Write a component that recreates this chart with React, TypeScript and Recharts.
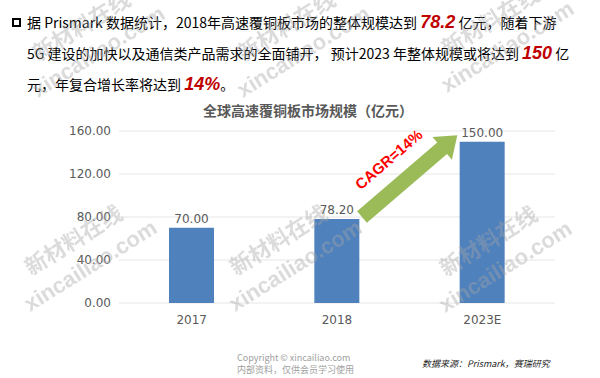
import React from 'react';
import { BarChart, Bar, XAxis, YAxis, CartesianGrid, LabelList, ReferenceLine } from 'recharts';

// Market size of high-speed CCL, 100 million yuan
const categories = ['2017', '2018', '2023E'];
const marketSize = [70, 78.2, 150];
const yTicks = [0, 40, 80, 120, 160];

// Growth annotation between 2018 and 2023E
const cagrLabel = 'CAGR=14%';
const cagrStart = { category: '2018', value: 80 };
const cagrEnd = { category: '2023E', value: 156 };

const data = categories.map((year, i) => ({ year, value: marketSize[i] }));

const CJK = "'Noto Sans CJK SC', 'Noto Sans', sans-serif";
const AXIS_FONT = "'DejaVu Sans', Verdana, sans-serif";
const AXIS_COLOR = '#595959';

// Thick green arrow with the CAGR text riding above it
const GrowthArrow = (props: any) => {
  const { x1, y1, x2, y2 } = props;
  const inset = 25;
  const tx = x1 + inset;
  const ty = y1;
  const px = x2 - inset;
  const py = y2;
  const len = Math.hypot(px - tx, py - ty);
  const ux = (px - tx) / len;
  const uy = (py - ty) / len;
  const nx = -uy;
  const ny = ux;
  const shaft = 7.5;
  const head = 15;
  const headLen = 20;
  const hx = px - ux * headLen;
  const hy = py - uy * headLen;
  const pts = [
    [tx + nx * shaft, ty + ny * shaft],
    [hx + nx * shaft, hy + ny * shaft],
    [hx + nx * head, hy + ny * head],
    [px, py],
    [hx - nx * head, hy - ny * head],
    [hx - nx * shaft, hy - ny * shaft],
    [tx - nx * shaft, ty - ny * shaft],
  ]
    .map((p) => p.join(','))
    .join(' ');
  const mx = (tx + px) / 2 - nx * 25 - ux * 5;
  const my = (ty + py) / 2 - ny * 25 - uy * 5;
  const angle = (Math.atan2(uy, ux) * 180) / Math.PI;
  return (
    <g>
      <polygon points={pts} fill="#9BBB59" />
      <text
        x={mx}
        y={my}
        textAnchor="middle"
        dominantBaseline="middle"
        transform={`rotate(${angle} ${mx} ${my})`}
        fontFamily="'Liberation Sans', Arial, sans-serif"
        fontWeight="bold"
        fontSize={15}
        fill="#FF0000"
      >
        {cagrLabel}
      </text>
    </g>
  );
};

const emph = {
  fontFamily: "'Liberation Sans', Arial, sans-serif",
  fontWeight: 'bold' as const,
  fontStyle: 'italic' as const,
  fontSize: 18,
  fill: '#C00000',
};

const watermarkAnchors = [
  [38, 98],
  [243, 98],
  [447, 93],
  [30, 312],
  [235, 312],
  [445, 313],
];

export default function App() {
  return (
    <div style={{ position: 'absolute', left: 0, top: 0, width: 600, height: 378, background: '#fff' }}>
      <BarChart
        width={600}
        height={378}
        data={data}
        margin={{ top: 131, right: 45, bottom: 45, left: 59 }}
      >
        <CartesianGrid vertical={false} stroke="#e6e6e6" />
        <XAxis
          dataKey="year"
          axisLine={false}
          tickLine={false}
          tickMargin={6}
          height={30}
          tick={{ fill: AXIS_COLOR, fontSize: 12, fontFamily: AXIS_FONT }}
        />
        <YAxis
          domain={[0, 160]}
          ticks={yTicks}
          axisLine={false}
          tickLine={false}
          width={60}
          tickFormatter={(v: number) => v.toFixed(2)}
          tick={{ fill: AXIS_COLOR, fontSize: 12, fontFamily: AXIS_FONT }}
        />
        <Bar dataKey="value" fill="#4F81BD" barSize={45} isAnimationActive={false}>
          <LabelList
            dataKey="value"
            position="top"
            formatter={(v: any) => Number(v).toFixed(2)}
            fill={AXIS_COLOR}
            fontSize={12}
            fontFamily={AXIS_FONT}
          />
        </Bar>
        <ReferenceLine
          segment={[
            { x: cagrStart.category, y: cagrStart.value },
            { x: cagrEnd.category, y: cagrEnd.value },
          ]}
          ifOverflow="visible"
          shape={GrowthArrow}
        />
      </BarChart>

      <svg
        width={600}
        height={378}
        style={{ position: 'absolute', left: 0, top: 0, pointerEvents: 'none' }}
      >
        {/* bullet + summary text */}
        <rect x={13} y={19} width={7} height={7} fill="none" stroke="#000" strokeWidth={2} />
        <g fontFamily={CJK} fontSize={14} fill="#000">
          <text x={27} y={28}>
            {'据 Prismark 数据统计，2018年高速覆铜板市场的整体规模达到 '}
            <tspan {...emph}>78.2</tspan>
            {' 亿元，随着下游'}
          </text>
          <text x={27} y={59}>
            {'5G 建设的加快以及通信类产品需求的全面铺开， 预计2023 年整体规模或将达到 '}
            <tspan {...emph}>150</tspan>
            {' 亿'}
          </text>
          <text x={27} y={90}>
            {'元，年复合增长率将达到 '}
            <tspan {...emph}>14%</tspan>
            {'。'}
          </text>
        </g>

        {/* chart title */}
        <text
          x={308}
          y={116}
          textAnchor="middle"
          fontFamily={CJK}
          fontWeight="bold"
          fontSize={14}
          fill="#595959"
        >
          全球高速覆铜板市场规模（亿元）
        </text>

        {/* footer */}
        <g fontFamily={CJK} fontSize={9} fill="#a0a0a0">
          <text x={237} y={361}>Copyright © xincailiao.com</text>
          <text x={237} y={373}>内部资料，仅供会员学习使用</text>
        </g>
        <text x={422} y={367} fontFamily={CJK} fontSize={9} fontStyle="italic" fill="#262626">
          数据来源：Prismark，赛瑞研究
        </text>

        {/* site watermark */}
        <g fill="#a6a6a6" opacity={0.4} fontWeight="bold" fontSize={22}>
          {watermarkAnchors.map(([x, y], i) => (
            <g key={i} transform={`translate(${x},${y}) rotate(-32)`}>
              <text x={0} y={0} fontFamily="'Liberation Sans', Arial, sans-serif">
                xincailiao.com
              </text>
              <text x={20} y={-30} fontFamily={CJK}>
                新材料在线
              </text>
            </g>
          ))}
        </g>
      </svg>
    </div>
  );
}
